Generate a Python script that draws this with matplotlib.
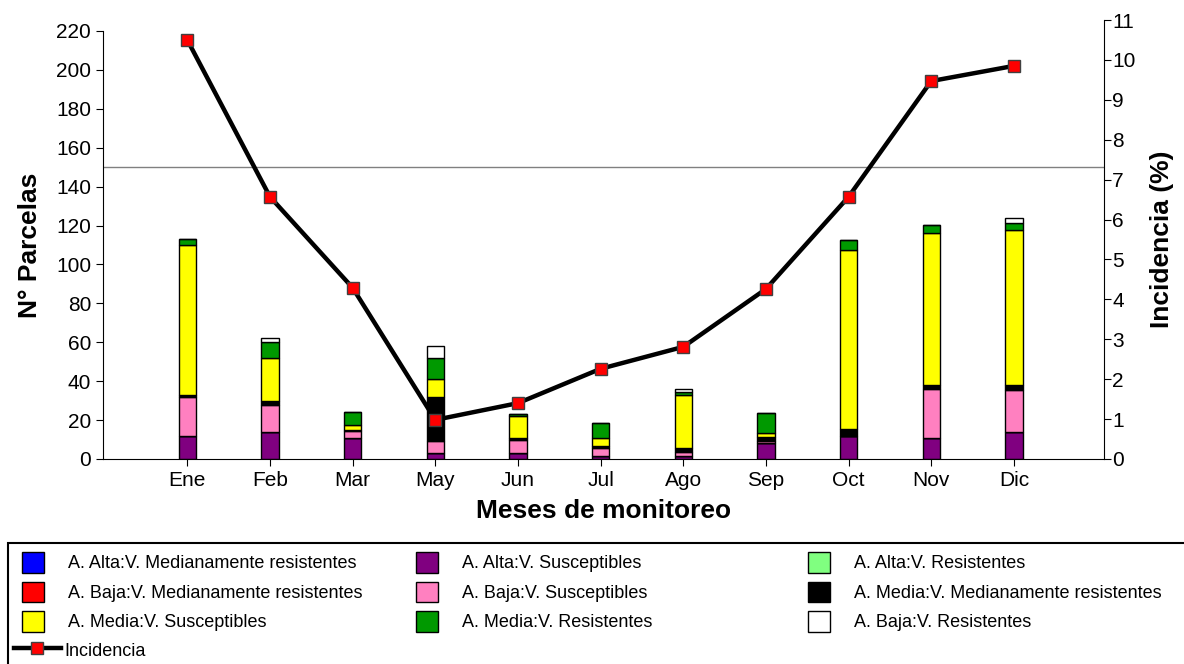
import numpy as np
import matplotlib
matplotlib.use("Agg")
import matplotlib.pyplot as plt
from matplotlib.patches import Rectangle

plt.rcParams['font.family'] = ['Liberation Sans', 'DejaVu Sans']

meses = ["Ene", "Feb", "Mar", "May", "Jun", "Jul", "Ago", "Sep", "Oct", "Nov", "Dic"]

# parcelas por categoria (A = abundancia, V = variedad)
alta_mr = [0, 0, 0, 0, 0, 0, 0, 0, 0, 0, 0]
alta_susc = [12, 14, 11, 3, 3, 1.5, 1.5, 8, 12, 11, 14]
alta_res = [0, 0, 0, 0, 0, 0, 0, 0, 0, 0, 0]
baja_mr = [0, 0, 0, 0, 0, 0, 0, 0, 0, 0, 0]
baja_susc = [20, 14, 3.5, 6, 7, 4, 2, 1.5, 0, 25, 21.5]
media_mr = [1, 2, 0.5, 23, 1, 1, 2, 2, 3.5, 2, 2.5]
media_susc = [77, 22, 2.5, 9, 11, 4.5, 27.5, 2, 92, 78, 79.5]
media_res = [3, 8, 6.5, 11, 1, 7.5, 1.5, 10, 5, 4.5, 4]
baja_res = [0, 2, 0, 6, 0, 0, 1.5, 0, 0, 0, 2.5]

incidencia = [10.5, 6.57, 4.29, 0.98, 1.4, 2.26, 2.81, 4.26, 6.57, 9.47, 9.85]

series = [
    ("A. Alta:V. Medianamente resistentes", alta_mr, "#0000FF"),
    ("A. Alta:V. Susceptibles", alta_susc, "#800080"),
    ("A. Alta:V. Resistentes", alta_res, "#80FF80"),
    ("A. Baja:V. Medianamente resistentes", baja_mr, "#FF0000"),
    ("A. Baja:V. Susceptibles", baja_susc, "#FF80C0"),
    ("A. Media:V. Medianamente resistentes", media_mr, "#000000"),
    ("A. Media:V. Susceptibles", media_susc, "#FFFF00"),
    ("A. Media:V. Resistentes", media_res, "#009900"),
    ("A. Baja:V. Resistentes", baja_res, "#FFFFFF"),
]

W, H = 1184, 664
fig = plt.figure(figsize=(W / 100, H / 100), dpi=100)
ax = fig.add_axes([103 / W, 205 / H, 1001 / W, 428 / H])
ax2 = fig.add_axes([103 / W, 205 / H, 1001 / W, 439 / H], sharex=ax)
ax2.patch.set_visible(False)

x = np.arange(len(meses))
bottom = np.zeros(len(meses))
handles = {}
for name, vals, color in series:
    vals = np.array(vals, dtype=float)
    b = ax.bar(x, vals, 0.21, bottom=bottom, color=color, edgecolor="black",
               linewidth=1, label=name)
    handles[name] = b
    bottom += vals

ax.axhline(150, color="#808080", linewidth=1)
ax.set_ylim(0, 220)
ax.set_xlim(-1.02, 11.09)
ax.set_yticks(np.arange(0, 221, 20))
ax.set_xticks(x)
ax.set_xticklabels(meses)
ax.tick_params(axis="both", labelsize=15, direction="out", length=5)
ax.spines["top"].set_visible(False)
ax.spines["right"].set_visible(False)
ax.set_ylabel("N° Parcelas", fontsize=19, fontweight="bold")
ax.yaxis.set_label_coords(-0.061, 0.5)
ax.set_xlabel("Meses de monitoreo", fontsize=19, fontweight="bold")
ax.xaxis.set_label_coords(0.5, -0.093)

ln, = ax2.plot(x, incidencia, color="black", linewidth=3.2, marker="s",
               markersize=9, markerfacecolor="#FF0000", markeredgecolor="#404040",
               label="Incidencia")
ax2.set_ylim(0, 11)
ax2.set_yticks(np.arange(0, 12, 1))
ax2.yaxis.tick_right()
ax2.yaxis.set_label_position("right")
ax2.tick_params(axis="y", labelsize=15, direction="out", length=5, pad=1)
ax2.tick_params(axis="x", bottom=False, labelbottom=False)
for s in ["top", "left", "bottom"]:
    ax2.spines[s].set_visible(False)
ax2.set_ylabel("Incidencia (%)", fontsize=19, fontweight="bold")
ax2.yaxis.set_label_coords(1.046, 0.5)

# legend: three fixed-width columns like the original, plus the line entry
columnas = [
    (22, ["A. Alta:V. Medianamente resistentes",
          "A. Baja:V. Medianamente resistentes",
          "A. Media:V. Susceptibles"]),
    (416, ["A. Alta:V. Susceptibles",
           "A. Baja:V. Susceptibles",
           "A. Media:V. Resistentes"]),
    (808, ["A. Alta:V. Resistentes",
           "A. Media:V. Medianamente resistentes",
           "A. Baja:V. Resistentes"]),
]
opts = dict(loc="upper left", fontsize=13, frameon=False, handlelength=1.2,
            handleheight=1.4, handletextpad=1.33, labelspacing=0.48,
            borderaxespad=0, borderpad=0)
for xpos, names in columnas:
    fig.legend([handles[n] for n in names], names,
               bbox_to_anchor=(xpos / W, 1 - 552 / H), **opts)

opts_line = dict(opts)
opts_line["handlelength"] = 2.6
opts_line["handletextpad"] = 0.2
fig.legend([ln], ["Incidencia"], bbox_to_anchor=(14 / W, 1 - 640 / H), **opts_line)

fig.patches.append(Rectangle((8 / W, -0.02), 1.02, 1.02 - 543 / H,
                             transform=fig.transFigure, fill=False,
                             edgecolor="black", linewidth=1.5, clip_on=False))

fig.savefig("out.png", dpi=100)
